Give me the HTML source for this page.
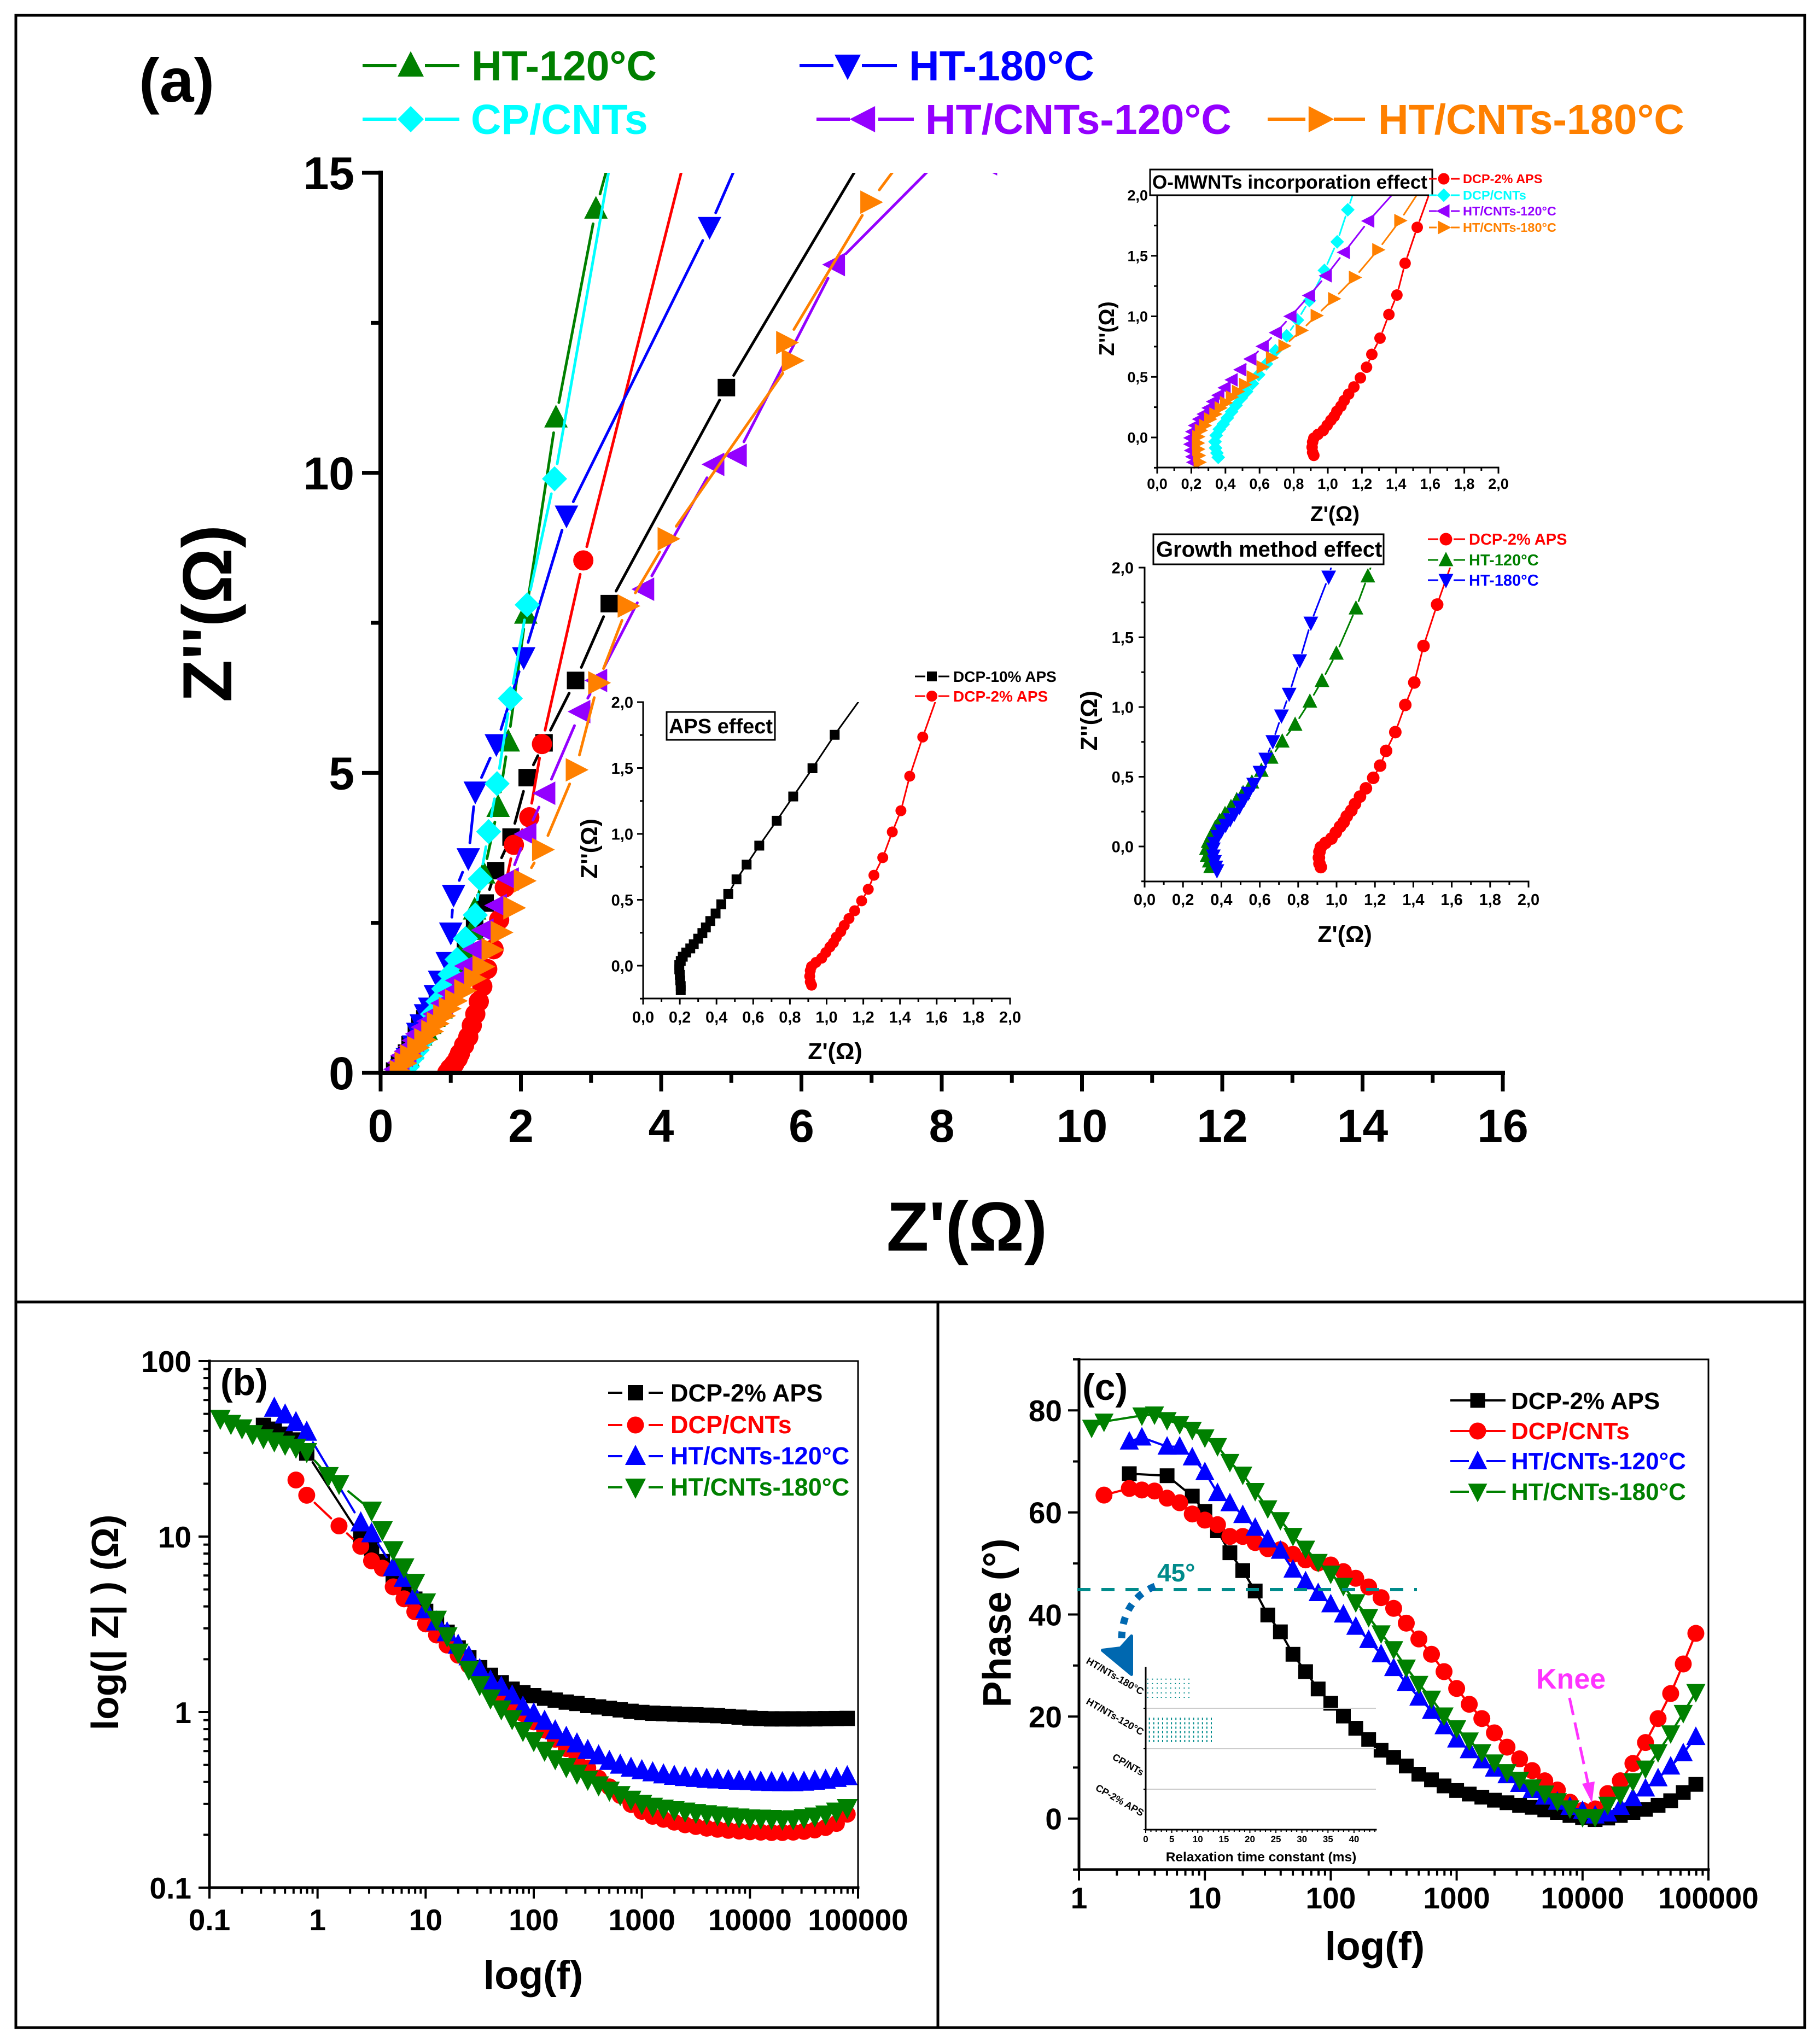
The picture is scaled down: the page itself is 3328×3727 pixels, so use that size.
<!DOCTYPE html>
<html lang="en">
<head>
<meta charset="utf-8">
<title>Impedance spectroscopy panels</title>
<style>
html,body{margin:0;padding:0;background:#fff}
svg{display:block}
text{font-family:"Liberation Sans",sans-serif;font-weight:bold}
</style>
</head>
<body>
<svg id="fig" xmlns="http://www.w3.org/2000/svg" width="3328" height="3727" viewBox="0 0 3328 3727">
<defs>
<clipPath id="clipA"><rect x="693" y="316" width="2060" height="1650"/></clipPath>
<clipPath id="clipI1"><rect x="1150" y="1284" width="700" height="546"/></clipPath>
<clipPath id="clipI2"><rect x="2090" y="357" width="654" height="500"/></clipPath>
<clipPath id="clipI3"><rect x="2070" y="1038" width="730" height="576"/></clipPath>
</defs>
<rect x="0" y="0" width="3328" height="3727" fill="#fff"/>
<rect x="29" y="28" width="3271" height="3680" fill="none" stroke="#000" stroke-width="5"/>
<line x1="29" y1="2381" x2="3300" y2="2381" stroke="#000" stroke-width="5"/>
<line x1="1715" y1="2381" x2="1715" y2="3708" stroke="#000" stroke-width="5"/>

<!-- Panel a -->
<g>
<text x="254" y="186" font-size="113">(a)</text>
<g clip-path="url(#clipA)">
<g id="a-black"></g>
<g id="a-red"></g>
<g id="a-green"></g>
<g id="a-blue"></g>
<g id="a-cyan"></g>
<g id="a-purple"></g>
<g id="a-orange"></g>
</g>
<g id="a-axes"></g>
<text x="1768" y="2287" font-size="127" text-anchor="middle">Z'(Ω)</text>
<text transform="translate(423,1122) rotate(-90)" font-size="127" text-anchor="middle">Z''(Ω)</text>

<g id="a-legend">
<text x="862" y="147" font-size="77" fill="#008000">HT-120°C</text>
<text x="1662" y="147" font-size="77" fill="#0000ff">HT-180°C</text>
<text x="861" y="245" font-size="77" fill="#00ffff">CP/CNTs</text>
<text x="1692" y="245" font-size="77" fill="#9400ff">HT/CNTs-120°C</text>
<text x="2520" y="245" font-size="77" fill="#ff8000">HT/CNTs-180°C</text>
</g>

<!-- inset 1 -->
<g>
<g clip-path="url(#clipI1)">
<g id="i1-black"></g>
<g id="i1-red"></g>
</g>
<g id="i1-axes"></g>
<rect x="1219" y="1302" width="198" height="51" fill="#fff" stroke="#000" stroke-width="3"/>
<text x="1223" y="1341" font-size="38">APS effect</text>
<text x="1527" y="1937" font-size="43" text-anchor="middle">Z'(Ω)</text>
<text transform="translate(1092,1552) rotate(-90)" font-size="43" text-anchor="middle">Z''(Ω)</text>
<g id="i1-legend">
<text x="1743" y="1247" font-size="28">DCP-10% APS</text>
<text x="1743" y="1283" font-size="28" fill="#ff0000">DCP-2% APS</text>
</g>
</g>

<!-- inset 2 -->
<g>
<g clip-path="url(#clipI2)">
<g id="i2-red"></g>
<g id="i2-cyan"></g>
<g id="i2-purple"></g>
<g id="i2-orange"></g>
</g>
<g id="i2-axes"></g>
<rect x="2103" y="310" width="516" height="47" fill="#fff" stroke="#000" stroke-width="3"/>
<text x="2107" y="345" font-size="35">O-MWNTs incorporation effect</text>
<text x="2441" y="953" font-size="39" text-anchor="middle">Z'(Ω)</text>
<text transform="translate(2037,601) rotate(-90)" font-size="39" text-anchor="middle">Z''(Ω)</text>
<g id="i2-legend">
<text x="2675" y="335" font-size="23.5" fill="#ff0000">DCP-2% APS</text>
<text x="2675" y="365" font-size="23.5" fill="#00ffff">DCP/CNTs</text>
<text x="2675" y="394" font-size="23.5" fill="#9400ff">HT/CNTs-120°C</text>
<text x="2675" y="424" font-size="23.5" fill="#ff8000">HT/CNTs-180°C</text>
</g>
</g>

<!-- inset 3 -->
<g>
<g clip-path="url(#clipI3)">
<g id="i3-red"></g>
<g id="i3-green"></g>
<g id="i3-blue"></g>
</g>
<g id="i3-axes"></g>
<rect x="2109" y="977" width="421" height="55" fill="#fff" stroke="#000" stroke-width="3"/>
<text x="2114" y="1018" font-size="40">Growth method effect</text>
<text x="2459" y="1723" font-size="43" text-anchor="middle">Z'(Ω)</text>
<text transform="translate(2006,1318) rotate(-90)" font-size="43" text-anchor="middle">Z''(Ω)</text>
<g id="i3-legend">
<text x="2686" y="996" font-size="29" fill="#ff0000">DCP-2% APS</text>
<text x="2686" y="1034" font-size="29" fill="#008000">HT-120°C</text>
<text x="2686" y="1071" font-size="29" fill="#0000ff">HT-180°C</text>
</g>
</g>
</g>

<!-- Panel b -->
<g>
<g id="b-black"></g>
<g id="b-red"></g>
<g id="b-blue"></g>
<g id="b-green"></g>
<g id="b-axes"></g>
<text x="403" y="2551" font-size="68">(b)</text>
<text x="975" y="3637" font-size="73" text-anchor="middle">log(f)</text>
<text transform="translate(216,2967) rotate(-90)" font-size="70" text-anchor="middle">log(| Z| ) (Ω)</text>
<g id="b-legend">
<text x="1226" y="2563" font-size="45">DCP-2% APS</text>
<text x="1226" y="2621" font-size="45" fill="#ff0000">DCP/CNTs</text>
<text x="1226" y="2678" font-size="45" fill="#0000ff">HT/CNTs-120°C</text>
<text x="1226" y="2735" font-size="45" fill="#008000">HT/CNTs-180°C</text>
</g>
</g>

<!-- Panel c -->
<g>
<g id="c-black"></g>
<g id="c-red"></g>
<g id="c-blue"></g>
<g id="c-green"></g>
<g id="c-axes"></g>
<text x="1979" y="2560" font-size="68">(c)</text>
<text x="2514" y="3584" font-size="73" text-anchor="middle">log(f)</text>
<text transform="translate(1848,2968) rotate(-90)" font-size="72" text-anchor="middle">Phase (°)</text>
<g id="c-legend">
<text x="2763" y="2577" font-size="44">DCP-2% APS</text>
<text x="2763" y="2632" font-size="44" fill="#ff0000">DCP/CNTs</text>
<text x="2763" y="2687" font-size="44" fill="#0000ff">HT/CNTs-120°C</text>
<text x="2763" y="2743" font-size="44" fill="#008000">HT/CNTs-180°C</text>
</g>
<line x1="1970" y1="2907" x2="2591" y2="2907" stroke="#008b8b" stroke-width="6" stroke-dasharray="24 20"/>
<text x="2116" y="2892" font-size="46" fill="#008b8b">45°</text>
<path d="M2112 2901 C2075 2915 2052 2950 2051 2996" fill="none" stroke="#0068b0" stroke-width="13" stroke-dasharray="13 14"/>
<polygon points="2016,3018 2049,3014 2069,2992 2069,3062" fill="#0068b0" stroke="#0068b0" stroke-width="6" stroke-linejoin="round"/>
<text x="2809" y="3088" font-size="52" fill="#ff33ff">Knee</text>
<line x1="2870" y1="3105" x2="2904" y2="3262" stroke="#ff33ff" stroke-width="5" stroke-dasharray="32 14"/>
<polygon points="2911,3297 2893,3262 2916,3258" fill="#ff33ff"/>

<g>
<g id="r-axes"></g>
<g id="r-dots"></g>
<text x="2306" y="3404" font-size="24.5" text-anchor="middle">Relaxation time constant (ms)</text>
</g>
</g>
</svg>

<script>
// ---------- Panel (a) main Nyquist data: Z' and Z'' in ohm ----------
const aBlackX=[7.6,4.93,3.26,2.78,2.33,2.09,1.86,1.64,1.49,1.34,1.21,1.08,0.95,0.81,0.73,0.63,0.56,0.51,0.42,0.37,0.27,0.2];
const aBlackY=[16.67,11.42,7.82,6.54,5.5,4.92,3.93,3.37,2.83,2.41,2.13,1.8,1.5,1.22,1.1,0.9,0.77,0.66,0.47,0.33,0.14,0.03];
const aRedX=[4.5,2.89,2.3,2.12,1.9,1.77,1.69,1.61,1.52,1.45,1.4,1.35,1.3,1.25,1.19,1.13,1.1,1.05,0.99,0.95,0.92];
const aRedY=[16,8.54,5.48,4.26,3.8,3.09,2.55,2.06,1.73,1.44,1.19,0.98,0.79,0.6,0.46,0.32,0.24,0.15,0.07,0,-0.1];
const aGreenX=[3.4,3.07,2.5,2.07,1.82,1.675,1.47,1.34,1.31,1.19,1.07,0.97,0.86,0.76,0.7,0.65,0.57,0.5,0.45,0.39,0.34,0.3];
const aGreenY=[15.8,14.4,10.92,7.65,5.52,4.43,3.32,2.72,2.38,2.06,1.7,1.38,1.07,0.93,0.81,0.71,0.62,0.51,0.39,0.27,0.12,0];
const aBlueX=[5.4,4.69,2.65,2.04,1.65,1.35,1.25,1.04,1,0.95,0.84,0.78,0.7,0.64,0.58,0.53,0.47,0.38,0.3];
const aBlueY=[16,14.1,9.29,6.93,5.48,4.69,3.58,2.97,2.34,1.85,1.54,1.3,1.09,0.98,0.81,0.67,0.46,0.25,0.06];
const aCyanX=[3.4,2.48,2.09,1.85,1.66,1.54,1.42,1.35,1.21,1.09,0.99,0.9,0.82,0.74,0.66,0.59,0.52,0.45,0.38,0.33];
const aCyanY=[16,9.9,7.8,6.24,4.82,4.02,3.23,2.63,2.24,1.89,1.64,1.4,1.19,0.98,0.75,0.53,0.38,0.25,0.1,-0.02];
const aPurpleX=[8.65,7.95,6.48,5.08,4.76,3.76,3.09,2.85,2.35,2.08,1.83,1.66,1.47,1.34,1.23,1.1,0.99,0.89,0.78,0.69,0.61,0.53,0.48,0.43,0.37,0.32,0.27,0.22];
const aPurpleY=[15.15,15.2,13.47,10.29,10.14,8.06,6.54,6.02,4.66,3.98,3.23,2.79,2.38,2.06,1.78,1.54,1.33,1.16,0.98,0.86,0.76,0.65,0.54,0.44,0.36,0.29,0.17,0.06];
const aOrangeX=[7.8,6.98,5.78,5.86,4.09,3.52,3.1,2.78,2.3,2.04,1.89,1.71,1.58,1.45,1.33,1.19,1.06,0.97,0.89,0.8,0.72,0.62,0.52,0.42,0.34,0.27];
const aOrangeY=[15.8,14.51,12.17,11.87,8.9,7.78,6.5,5.05,3.72,3.2,2.75,2.34,2.05,1.77,1.57,1.37,1.2,1.07,0.95,0.82,0.69,0.55,0.42,0.28,0.16,0.02];
const aXTicks=[0,2,4,6,8,10,12,14,16];
const aXLabels=["0","2","4","6","8","10","12","14","16"];
const aXMinor=[1,3,5,7,9,11,13,15];
const aYTicks=[0,5,10,15];
const aYLabels=["0","5","10","15"];
const aYMinor=[2.5,7.5,12.5];

// ---------- Insets of panel (a) ----------
const insetXTicks=[0,0.2,0.4,0.6,0.8,1,1.2,1.4,1.6,1.8,2];
const insetXLabels=["0,0","0,2","0,4","0,6","0,8","1,0","1,2","1,4","1,6","1,8","2,0"];
const insetXMinor=[0.1,0.3,0.5,0.7,0.9,1.1,1.3,1.5,1.7,1.9];
const insetYTicks=[0,0.5,1,1.5,2];
const insetYLabels=["0,0","0,5","1,0","1,5","2,0"];
const insetYMinor=[-0.25,0.25,0.75,1.25,1.75];

const dcp2X=[1.63,1.524,1.453,1.405,1.358,1.306,1.258,1.227,1.191,1.153,1.122,1.096,1.077,1.053,1.037,1.018,0.996,0.973,0.942,0.918,0.911,0.908,0.911,0.918];
const dcp2Y=[2.15,1.735,1.438,1.176,1.015,0.82,0.686,0.58,0.492,0.417,0.358,0.305,0.258,0.216,0.174,0.142,0.1,0.057,0.025,-0.006,-0.038,-0.08,-0.123,-0.148];
const dcp10X=[1.25,1.044,0.923,0.818,0.728,0.633,0.564,0.509,0.464,0.426,0.395,0.366,0.342,0.323,0.3,0.276,0.257,0.235,0.216,0.205,0.197,0.197,0.2,0.202,0.205,0.205];
const dcp10Y=[2.15,1.752,1.498,1.284,1.1,0.911,0.767,0.655,0.544,0.466,0.396,0.339,0.29,0.248,0.205,0.163,0.131,0.1,0.068,0.036,0.004,-0.028,-0.07,-0.112,-0.155,-0.186];
const i2CyanX=[1.18,1.117,1.055,0.98,0.892,0.822,0.759,0.693,0.64,0.595,0.558,0.524,0.493,0.462,0.436,0.411,0.387,0.364,0.346,0.339,0.342,0.35,0.358];
const i2CyanY=[2.15,1.88,1.615,1.379,1.13,0.969,0.839,0.716,0.607,0.518,0.445,0.379,0.327,0.265,0.213,0.161,0.11,0.068,0.017,-0.035,-0.087,-0.128,-0.164];
const i2PurpleX=[1.47,1.239,1.096,0.99,0.892,0.783,0.697,0.62,0.548,0.489,0.438,0.397,0.36,0.329,0.303,0.274,0.247,0.223,0.207,0.196,0.196,0.2,0.207,0.213];
const i2PurpleY=[2.15,1.787,1.528,1.335,1.172,1,0.865,0.752,0.648,0.559,0.476,0.41,0.348,0.296,0.244,0.193,0.151,0.099,0.048,-0.004,-0.056,-0.108,-0.159,-0.205];
const i2OrangeX=[1.59,1.423,1.294,1.157,1.035,0.933,0.845,0.744,0.671,0.616,0.558,0.513,0.472,0.436,0.401,0.37,0.339,0.309,0.278,0.254,0.239,0.237,0.239,0.243,0.247];
const i2OrangeY=[2.15,1.79,1.549,1.321,1.145,1.006,0.884,0.756,0.658,0.582,0.499,0.437,0.379,0.333,0.286,0.244,0.193,0.151,0.099,0.058,0.006,-0.046,-0.097,-0.149,-0.205];
const i3GreenX=[1.2,1.163,1.101,0.999,0.924,0.861,0.784,0.717,0.659,0.608,0.559,0.513,0.48,0.45,0.419,0.391,0.368,0.349,0.331,0.322,0.326,0.337,0.344];
const i3GreenY=[2.1,1.938,1.708,1.384,1.188,1.04,0.874,0.754,0.638,0.544,0.46,0.384,0.334,0.284,0.234,0.184,0.134,0.084,0.034,-0.016,-0.066,-0.106,-0.146];
const i3BlueX=[0.99,0.959,0.866,0.808,0.753,0.713,0.668,0.631,0.601,0.568,0.54,0.517,0.495,0.468,0.446,0.422,0.4,0.38,0.364,0.358,0.358,0.364,0.371,0.377];
const i3BlueY=[2.1,1.934,1.604,1.334,1.094,0.938,0.754,0.628,0.534,0.448,0.384,0.334,0.284,0.234,0.194,0.154,0.114,0.074,0.024,-0.016,-0.066,-0.106,-0.146,-0.172];

// ---------- Panels (b) and (c): frequency in Hz ----------
const freqHz=[0.1,0.126,0.158,0.2,0.251,0.316,0.398,0.501,0.631,0.794,1,1.26,1.58,2,2.51,3.16,3.98,5.01,6.31,7.94,10,12.6,15.8,20,25.1,31.6,39.8,50.1,63.1,79.4,100,126,158,200,251,316,398,501,631,794,1000,1259,1585,1995,2512,3162,3981,5012,6310,7943,10000,12589,15849,19953,25119,31623,39811,50119,63096,79433];
const bBlackZ=[null,null,null,null,null,43,40.9,38.3,35.5,29.9,null,null,null,null,10,8.6,7.2,5.96,5,4.4,3.75,3.3,2.85,2.32,2.04,1.79,1.62,1.47,1.35,1.29,1.24,1.2,1.17,1.14,1.12,1.09,1.07,1.05,1.03,1.01,0.995,0.985,0.98,0.975,0.97,0.965,0.96,0.955,0.945,0.935,0.925,0.918,0.915,0.915,0.915,0.915,0.916,0.917,0.918,0.92];
const bRedZ=[null,null,null,null,null,null,null,null,21,17.2,null,null,11.5,null,8.8,7.27,6.6,5.17,4.42,3.73,3.18,2.75,2.41,2.11,1.85,1.6,1.39,1.24,1.1,0.98,0.88,0.79,0.7,0.62,0.55,0.48,0.42,0.375,0.335,0.298,0.272,0.255,0.245,0.236,0.228,0.223,0.218,0.215,0.212,0.21,0.208,0.207,0.206,0.206,0.207,0.209,0.213,0.22,0.232,0.262];
const bBlueZ=[null,null,null,null,null,null,54,49.4,44.7,39.4,null,null,null,null,12,10.4,null,6.68,5.8,4.6,3.84,3.27,2.84,2.41,2.07,1.75,1.51,1.39,1.24,1.07,0.98,0.889,0.784,0.72,0.661,0.606,0.565,0.525,0.5,0.48,0.465,0.452,0.44,0.432,0.425,0.42,0.415,0.412,0.408,0.405,0.403,0.4,0.398,0.397,0.397,0.4,0.405,0.41,0.42,0.43];
const bGreenZ=[null,47,44,41.5,38.5,36.5,35,33.5,32.2,30.4,null,22.2,20,null,null,14.1,10.9,8.4,6.7,5.47,4.23,3.37,2.71,2.19,1.75,1.43,1.2,1.04,0.915,0.784,0.687,0.605,0.541,0.488,0.448,0.413,0.384,0.358,0.338,0.318,0.301,0.29,0.283,0.277,0.272,0.267,0.263,0.259,0.255,0.252,0.249,0.248,0.247,0.245,0.246,0.25,0.255,0.262,0.272,0.285];
const bXTicks=[0.1,1,10,100,1000,10000,100000];
const bXLabels=["0.1","1","10","100","1000","10000","100000"];
const bYTicks=[0.1,1,10,100];
const bYLabels=["0.1","1","10","100"];

const cFreqHz=freqHz.slice(11);
const cBlackPhase=[null,null,null,67.6,null,null,67.2,null,63.2,60.2,56.4,52.1,48.6,44.6,39.9,36.6,32.2,28.8,25.4,22.6,20.1,17.7,15.5,13.4,12,10.3,8.7,7.6,6.4,5.5,4.8,4.2,3.6,3.1,2.6,2.2,1.7,1.2,0.6,0.2,-0.2,0.1,0.6,1.2,1.8,2.6,3.5,5.1,6.7];
const cRedPhase=[null,63.4,null,64.7,64.4,64.2,62.8,61.9,59.7,58.5,57.6,55.3,55.3,54.1,52.9,52.7,51.8,50.7,50.1,49.7,48.4,47.1,45.4,43.3,41.2,38.3,35.2,32.2,28.8,25.5,22.4,19.6,16.8,14,11.7,9.4,7.4,5.6,3.2,1.6,1.9,4.9,7.4,10.8,14.9,19.6,24.5,30.3,36.3];
const cBluePhase=[null,null,null,73.9,74.7,null,72.9,72.9,70.8,67.9,63.8,61.8,59.5,57,54.7,52.5,48.8,46.5,44.2,42,40,37.6,35,32.2,29.5,26.6,23.7,21.1,18.1,15.5,13.4,11.4,9.8,8.5,6.8,5.6,4.3,3.3,2.3,1.5,0.6,1,2.3,4,5.9,7.9,10.2,12.8,16];
const cGreenPhase=[76.6,77.8,null,null,79,79.2,78.1,77.3,76.2,74.7,73,69.9,67.4,64.2,60.8,58.5,55.4,52.9,50.3,48,45.6,42.4,39.5,36.3,33.2,29.6,26.4,23.5,20.2,17.7,15.3,13,11,9.1,7.6,6.1,4.9,3.4,2,0.3,0.3,2.7,4.7,7.3,9.8,13,16.7,20.7,24.8];
const cXTicks=[1,10,100,1000,10000,100000];
const cXLabels=["1","10","100","1000","10000","100000"];
const cYTicks=[0,20,40,60,80];
const cYLabels=["0","20","40","60","80"];
const cYMinor=[-10,10,30,50,70,90];

// ---------- Relaxation-time inset of panel (c) ----------
const rCategories=["HT/NTs-180°C","HT/NTs-120°C","CP/NTs","CP-2% APS"];
const rXTicks=[0,5,10,15,20,25,30,35,40];
const rXMinor=[1,2,3,4,6,7,8,9,11,12,13,14,16,17,18,19,21,22,23,24,26,27,28,29,31,32,33,34,36,37,38,39,41,42,43,44];
const tau180=[0.4,1.3,2.2,3.0,3.9,4.8,5.7,6.5,7.4,8.3];
const tau180Rows=[0.28,0.39,0.5,0.62,0.73];
const tau120=[0.7,1.55,2.4,3.25,4.1,4.95,5.8,6.65,7.5,8.35,9.2,10.05,10.9,11.75,12.6];
const tau120Rows=[0.26,0.37,0.48,0.59,0.7,0.81];

// ---------- helpers ----------
const SVGNS='http://www.w3.org/2000/svg';
function $(id){return document.getElementById(id);}
function mk(tag,parent){const el=document.createElementNS(SVGNS,tag);parent.appendChild(el);return el;}
function linScale(d0,d1,r0,r1){return v=>r0+(v-d0)*(r1-r0)/(d1-d0);}
function logScale(d0,d1,r0,r1){const a=Math.log10(d0),b=Math.log10(d1);return v=>r0+(Math.log10(v)-a)*(r1-r0)/(b-a);}

function marker(g,shape,cx,cy,s,color){
  let el;
  if(shape==='square'){
    el=mk('rect',g);
    el.setAttribute('x',cx-s/2);el.setAttribute('y',cy-s/2);
    el.setAttribute('width',s);el.setAttribute('height',s);
  }else if(shape==='circle'){
    el=mk('circle',g);
    el.setAttribute('cx',cx);el.setAttribute('cy',cy);el.setAttribute('r',s/2);
  }else{
    const h=s/2,a=0.55*s,b=0.42*s;
    const pts={
      diamond:[[0,-h],[h,0],[0,h],[-h,0]],
      up:[[0,-a],[h,b],[-h,b]],
      down:[[0,a],[h,-b],[-h,-b]],
      left:[[-a,0],[b,-h],[b,h]],
      right:[[a,0],[-b,-h],[-b,h]]
    }[shape];
    el=mk('polygon',g);
    el.setAttribute('points',pts.map(p=>(cx+p[0])+','+(cy+p[1])).join(' '));
  }
  el.setAttribute('fill',color);
  
  
}

function drawSeries(id,xs,ys,sx,sy,o){
  const g=$(id);
  const pts=[];
  xs.forEach((x,i)=>{if(ys[i]!==null&&ys[i]!==undefined)pts.push([sx(x),sy(ys[i])]);});
  let d='';
  for(let i=0;i<pts.length-1;i++){
    const p=pts[i],q=pts[i+1];
    const dx=q[0]-p[0],dy=q[1]-p[1],L=Math.hypot(dx,dy);
    if(L<=2*o.gap||L===0)continue;
    const ux=dx/L,uy=dy/L;
    d+='M'+(p[0]+ux*o.gap).toFixed(1)+' '+(p[1]+uy*o.gap).toFixed(1)+'L'+(q[0]-ux*o.gap).toFixed(1)+' '+(q[1]-uy*o.gap).toFixed(1);
  }
  const line=mk('path',g);
  line.setAttribute('d',d);
  line.setAttribute('fill','none');
  line.setAttribute('stroke',o.color);
  line.setAttribute('stroke-width',o.sw);
  line.setAttribute('stroke-linecap','round');
  
  
  pts.forEach(p=>marker(g,o.shape,p[0],p[1],o.size,o.color));
}

function tick(g,x1,y1,x2,y2,sw){
  const t=mk('line',g);
  t.setAttribute('x1',x1);t.setAttribute('y1',y1);t.setAttribute('x2',x2);t.setAttribute('y2',y2);
  t.setAttribute('stroke','#000');t.setAttribute('stroke-width',sw);
  
  
}
function tickLabel(g,x,y,str,size,anchor){
  const t=mk('text',g);
  t.setAttribute('x',x);t.setAttribute('y',y);t.setAttribute('font-size',size);t.setAttribute('text-anchor',anchor);
  t.textContent=str;
  
  
}
function axisLine(g,x1,y1,x2,y2,sw){
  const t=mk('line',g);
  t.setAttribute('x1',x1);t.setAttribute('y1',y1);t.setAttribute('x2',x2);t.setAttribute('y2',y2);
  t.setAttribute('stroke','#000');t.setAttribute('stroke-width',sw);t.setAttribute('stroke-linecap','square');
  
  
}
function xAxis(g,sx,yPos,ticks,labels,minors,o){
  ticks.forEach((v,i)=>{
    tick(g,sx(v),yPos,sx(v),yPos+o.major,o.tw);
    tickLabel(g,sx(v),o.labelY,labels[i],o.font,'middle');
  });
  minors.forEach(v=>tick(g,sx(v),yPos,sx(v),yPos+o.minor,o.tw));
}
function yAxis(g,sy,xPos,ticks,labels,minors,o){
  ticks.forEach((v,i)=>{
    tick(g,xPos,sy(v),xPos-o.major,sy(v),o.tw);
    tickLabel(g,o.labelX,sy(v)+o.font*0.36,labels[i],o.font,'end');
  });
  minors.forEach(v=>tick(g,xPos,sy(v),xPos-o.minor,sy(v),o.tw));
}
function logMinors(lo,hi){
  const out=[];
  for(let d=lo;d<hi;d*=10){for(let m=2;m<=9;m++){const v=d*m;if(v<hi)out.push(v);}}
  return out;
}
function swatch(id,shape,color,x1,x2,mx,y,size,sw,gap){
  const g=$(id);
  const l=mk('line',g);
  l.setAttribute('x1',x1);l.setAttribute('y1',y);l.setAttribute('x2',mx-gap);l.setAttribute('y2',y);
  l.setAttribute('stroke',color);l.setAttribute('stroke-width',sw);
  
  
  const r=mk('line',g);
  r.setAttribute('x1',mx+gap);r.setAttribute('y1',y);r.setAttribute('x2',x2);r.setAttribute('y2',y);
  r.setAttribute('stroke',color);r.setAttribute('stroke-width',sw);
  
  
  marker(g,shape,mx,y,size,color);
}

// ---------- Colours ----------
const BLACK='#000',RED='#ff0000',GREEN='#008000',BLUE='#0000ff',CYAN='#00ffff',PURPLE='#9400ff',ORANGE='#ff8000';

// ---------- Panel (a) ----------
const xA=linScale(0,16,696,2748),yA=linScale(0,15,1962,316);
drawSeries('a-black',aBlackX,aBlackY,xA,yA,{color:BLACK,shape:'square',size:32,sw:5,gap:26});
drawSeries('a-red',aRedX,aRedY,xA,yA,{color:RED,shape:'circle',size:37,sw:5,gap:26});
drawSeries('a-green',aGreenX,aGreenY,xA,yA,{color:GREEN,shape:'up',size:43,sw:5,gap:28});
drawSeries('a-blue',aBlueX,aBlueY,xA,yA,{color:BLUE,shape:'down',size:43,sw:5,gap:28});
drawSeries('a-cyan',aCyanX,aCyanY,xA,yA,{color:CYAN,shape:'diamond',size:46,sw:5,gap:28});
drawSeries('a-purple',aPurpleX,aPurpleY,xA,yA,{color:PURPLE,shape:'left',size:43,sw:5,gap:28});
drawSeries('a-orange',aOrangeX,aOrangeY,xA,yA,{color:ORANGE,shape:'right',size:43,sw:5,gap:28});
const aAxes=$('a-axes');
axisLine(aAxes,696,316,696,1962,8);
axisLine(aAxes,696,1962,2748,1962,8);
xAxis(aAxes,xA,1962,aXTicks,aXLabels,aXMinor,{major:34,minor:18,tw:7,labelY:2088,font:84});
yAxis(aAxes,yA,696,aYTicks,aYLabels,aYMinor,{major:34,minor:18,tw:7,labelX:648,font:84});
swatch('a-legend','up',GREEN,663,840,751,120,48,6,26);
swatch('a-legend','down',BLUE,1462,1640,1550,120,48,6,26);
swatch('a-legend','diamond',CYAN,663,840,751,218,48,6,26);
swatch('a-legend','left',PURPLE,1493,1671,1580,218,48,6,26);
swatch('a-legend','right',ORANGE,2318,2496,2413,218,48,6,26);

// Inset 1
const x1=linScale(0,2,1176,1847),y1=linScale(0,2,1766,1284);
drawSeries('i1-black',dcp10X,dcp10Y,x1,y1,{color:BLACK,shape:'square',size:18,sw:3,gap:11});
drawSeries('i1-red',dcp2X,dcp2Y,x1,y1,{color:RED,shape:'circle',size:20,sw:3,gap:11});
const a1=$('i1-axes');
axisLine(a1,1176,1284,1176,1826,3);axisLine(a1,1176,1826,1847,1826,3);
xAxis(a1,x1,1826,insetXTicks,insetXLabels,insetXMinor,{major:11,minor:6,tw:3,labelY:1870,font:29});
yAxis(a1,y1,1176,insetYTicks,insetYLabels,insetYMinor,{major:11,minor:6,tw:3,labelX:1158,font:29});
swatch('i1-legend','square',BLACK,1673,1736,1704,1237,18,3,12);
swatch('i1-legend','circle',RED,1673,1736,1704,1273,20,3,12);

// Inset 2
const x2=linScale(0,2,2116,2740),y2=linScale(0,2,800,357);
drawSeries('i2-red',dcp2X,dcp2Y,x2,y2,{color:RED,shape:'circle',size:21,sw:3,gap:12});
drawSeries('i2-cyan',i2CyanX,i2CyanY,x2,y2,{color:CYAN,shape:'diamond',size:25,sw:3,gap:13});
drawSeries('i2-purple',i2PurpleX,i2PurpleY,x2,y2,{color:PURPLE,shape:'left',size:25,sw:3,gap:13});
drawSeries('i2-orange',i2OrangeX,i2OrangeY,x2,y2,{color:ORANGE,shape:'right',size:25,sw:3,gap:13});
const a2=$('i2-axes');
axisLine(a2,2116,357,2116,855,3);axisLine(a2,2116,855,2740,855,3);
xAxis(a2,x2,855,insetXTicks,insetXLabels,insetXMinor,{major:11,minor:6,tw:3,labelY:894,font:27});
yAxis(a2,y2,2116,insetYTicks,insetYLabels,insetYMinor,{major:11,minor:6,tw:3,labelX:2099,font:27});
swatch('i2-legend','circle',RED,2613,2669,2640,327,21,3,13);
swatch('i2-legend','diamond',CYAN,2613,2669,2640,357,25,3,13);
swatch('i2-legend','left',PURPLE,2613,2669,2640,386,25,3,13);
swatch('i2-legend','right',ORANGE,2613,2669,2640,416,25,3,13);

// Inset 3
const x3=linScale(0,2,2093,2795),y3=linScale(0,2,1548,1038);
drawSeries('i3-red',dcp2X,dcp2Y,x3,y3,{color:RED,shape:'circle',size:23,sw:3,gap:12});
drawSeries('i3-green',i3GreenX,i3GreenY,x3,y3,{color:GREEN,shape:'up',size:27,sw:3,gap:14});
drawSeries('i3-blue',i3BlueX,i3BlueY,x3,y3,{color:BLUE,shape:'down',size:27,sw:3,gap:14});
const a3=$('i3-axes');
axisLine(a3,2093,1038,2093,1612,3);axisLine(a3,2093,1612,2795,1612,3);
xAxis(a3,x3,1612,insetXTicks,insetXLabels,insetXMinor,{major:11,minor:6,tw:3,labelY:1655,font:29});
yAxis(a3,y3,2093,insetYTicks,insetYLabels,insetYMinor,{major:11,minor:6,tw:3,labelX:2073,font:29});
swatch('i3-legend','circle',RED,2611,2679,2644,986,23,3,14);
swatch('i3-legend','up',GREEN,2611,2679,2644,1024,27,3,14);
swatch('i3-legend','down',BLUE,2611,2679,2644,1061,27,3,14);

// ---------- Panel (b) ----------
const xB=logScale(0.1,100000,383,1569),yB=logScale(0.1,100,3452,2489);
drawSeries('b-black',freqHz,bBlackZ,xB,yB,{color:BLACK,shape:'square',size:28,sw:4,gap:20});
drawSeries('b-red',freqHz,bRedZ,xB,yB,{color:RED,shape:'circle',size:31,sw:4,gap:20});
drawSeries('b-blue',freqHz,bBlueZ,xB,yB,{color:BLUE,shape:'up',size:38,sw:4,gap:22});
drawSeries('b-green',freqHz,bGreenZ,xB,yB,{color:GREEN,shape:'down',size:38,sw:4,gap:22});
const bA=$('b-axes');
axisLine(bA,383,2489,1569,2489,3);axisLine(bA,1569,2489,1569,3452,3);
axisLine(bA,383,2489,383,3452,5);axisLine(bA,383,3452,1569,3452,5);
xAxis(bA,xB,3452,bXTicks,bXLabels,logMinors(0.1,100000),{major:20,minor:11,tw:4,labelY:3530,font:55});
yAxis(bA,yB,383,bYTicks,bYLabels,logMinors(0.1,100),{major:20,minor:11,tw:4,labelX:350,font:55});
swatch('b-legend','square',BLACK,1112,1212,1162,2547,28,4,24);
swatch('b-legend','circle',RED,1112,1212,1162,2606,31,4,24);
swatch('b-legend','up',BLUE,1112,1212,1162,2663,38,4,24);
swatch('b-legend','down',GREEN,1112,1212,1162,2720,38,4,24);

// ---------- Panel (c) ----------
const xC=logScale(1,100000,1973,3124),yC=linScale(-10,90,3419,2486);
drawSeries('c-black',cFreqHz,cBlackPhase,xC,yC,{color:BLACK,shape:'square',size:27,sw:4,gap:0});
drawSeries('c-red',cFreqHz,cRedPhase,xC,yC,{color:RED,shape:'circle',size:31,sw:4,gap:0});
drawSeries('c-blue',cFreqHz,cBluePhase,xC,yC,{color:BLUE,shape:'up',size:35,sw:4,gap:0});
drawSeries('c-green',cFreqHz,cGreenPhase,xC,yC,{color:GREEN,shape:'down',size:35,sw:4,gap:0});
const cA=$('c-axes');
axisLine(cA,1973,2486,3124,2486,3);axisLine(cA,3124,2486,3124,3419,3);
axisLine(cA,1973,2486,1973,3419,5);axisLine(cA,1973,3419,3124,3419,5);
xAxis(cA,xC,3419,cXTicks,cXLabels,logMinors(1,100000),{major:20,minor:11,tw:4,labelY:3490,font:55});
yAxis(cA,yC,1973,cYTicks,cYLabels,cYMinor,{major:20,minor:11,tw:4,labelX:1942,font:55});
swatch('c-legend','square',BLACK,2652,2753,2702,2561,27,4,12);
swatch('c-legend','circle',RED,2652,2753,2702,2617,31,4,14);
swatch('c-legend','up',BLUE,2652,2753,2702,2672,35,4,16);
swatch('c-legend','down',GREEN,2652,2753,2702,2728,35,4,16);

// ---------- Relaxation inset ----------
const xR=linScale(0,44,2095,2514);
const yBandTop=i=>3050+i*74;
const rA=$('r-axes');
rCategories.forEach((name,i)=>{
  if(i<3){
    const gl=mk('line',rA);
    gl.setAttribute('x1',2095);gl.setAttribute('x2',2516);
    gl.setAttribute('y1',yBandTop(i+1));gl.setAttribute('y2',yBandTop(i+1));
    gl.setAttribute('stroke','#cccccc');gl.setAttribute('stroke-width',2);
    
    
  }
  tick(rA,2095,yBandTop(i+1),2091,yBandTop(i+1),2);
  const t=mk('text',rA);
  t.setAttribute('transform','translate(2087,'+(yBandTop(i)+50)+') rotate(30)');
  t.setAttribute('font-size',18);
  t.setAttribute('text-anchor','end');
  t.textContent=name;
  
  
});
axisLine(rA,2095,3050,2095,3346,3);axisLine(rA,2095,3346,2516,3346,3);
xAxis(rA,xR,3346,rXTicks,rXTicks.map(String),rXMinor,{major:6,minor:4,tw:2,labelY:3369,font:17});
function dotGrid(taus,rows,band,h){
  const g=$('r-dots');
  taus.forEach(t=>rows.forEach(r=>{
    const d=mk('rect',g);
    d.setAttribute('x',xR(t)-1);
    d.setAttribute('y',yBandTop(band)+r*74-h/2);
    d.setAttribute('width',2);
    d.setAttribute('height',h);
    d.setAttribute('fill','#008b8b');
    
    
  }));
}
dotGrid(tau180,tau180Rows,0,2);
dotGrid(tau120,tau120Rows,1,4);
</script>
</body>
</html>
